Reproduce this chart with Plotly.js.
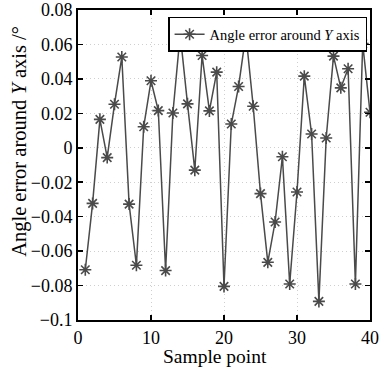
<!DOCTYPE html>
<html>
<head>
<meta charset="utf-8">
<script src="https://cdn.plot.ly/plotly-3.0.1.min.js"></script>
<style>html,body{margin:0;padding:0;background:#fff;}#chart{width:381px;height:371px;}</style>
</head>
<body>
<div id="chart"></div>
<script>
const samplePoints = [1,2,3,4,5,6,7,8,9,10,11,12,13,14,15,16,17,18,19,20,21,22,23,24,25,26,27,28,29,30,31,32,33,34,35,36,37,38,39,40];
const angleErrorY = [-0.0708,-0.0323,0.0165,-0.0057,0.0253,0.0527,-0.0327,-0.0682,0.0122,0.0389,
  0.0216,-0.0713,0.0202,0.066,0.0255,-0.013,0.0536,0.0214,0.0439,-0.0805,
  0.0138,0.0356,0.066,0.0241,-0.0266,-0.0665,-0.0431,-0.0052,-0.0791,-0.0257,
  0.0416,0.008,-0.0892,0.0057,0.0532,0.0348,0.0459,-0.0791,0.0605,0.0206];
const yTickVals = [-0.1,-0.08,-0.06,-0.04,-0.02,0,0.02,0.04,0.06,0.08];
const yTickText = ['\u22120.1','\u22120.08','\u22120.06','\u22120.04','\u22120.02','0','0.02','0.04','0.06','0.08'];
const xTickVals = [0,10,20,30,40];
const seriesName = 'Angle error around <i>Y</i> axis';
const xTitle = 'Sample point';
const yTitle = 'Angle error around <i>Y</i> axis /\u00b0';

const fam = 'Liberation Serif, serif';
const font = {family: fam, color: '#000'};
const f = (s) => ({family: fam, color: '#000', size: s});
const trace = {
  x: samplePoints, y: angleErrorY, type: 'scatter', mode: 'lines+markers',
  name: seriesName,
  line: {color: '#4a4a4a', width: 1.5},
  marker: {symbol: 'asterisk-open', size: 10, color: '#4a4a4a', line: {color: '#4a4a4a', width: 1.6}}
};
const axisCommon = {
  showline: true, linecolor: '#000', linewidth: 2, mirror: 'ticks',
  ticks: 'inside', ticklen: 5, tickwidth: 1.5, tickcolor: '#000',
  showgrid: true, gridcolor: '#cfcfcf', griddash: '1px,3px', gridwidth: 1,
  zeroline: false, tickfont: f(18)
};
const layout = {
  width: 381, height: 371,
  margin: {l: 78, r: 11, t: 10, b: 51},
  paper_bgcolor: '#fff', plot_bgcolor: '#fff',
  font: font,
  showlegend: true,
  legend: {x: 0.99, xanchor: 'right', y: 0.978, yanchor: 'top', bgcolor: '#fff',
    bordercolor: '#000', borderwidth: 1.5, font: f(14.5),
    itemwidth: 30, tracegroupgap: 0},
  xaxis: Object.assign({}, axisCommon, {range: [0, 40], tickvals: xTickVals}),
  yaxis: Object.assign({}, axisCommon, {range: [-0.1, 0.08], tickvals: yTickVals, ticktext: yTickText}),
  annotations: [
    {text: xTitle, xref: 'paper', yref: 'paper', x: 0.469, y: -0.156, xanchor: 'center', yanchor: 'bottom',
     showarrow: false, font: f(19.5), borderpad: 0},
    {text: yTitle, xref: 'paper', yref: 'paper', x: -0.203, y: 0.577, xanchor: 'center', yanchor: 'middle',
     textangle: -90, showarrow: false, font: f(20.5)}
  ]
};
Plotly.newPlot('chart', [trace], layout, {displayModeBar: false, staticPlot: true});
</script>
</body>
</html>
